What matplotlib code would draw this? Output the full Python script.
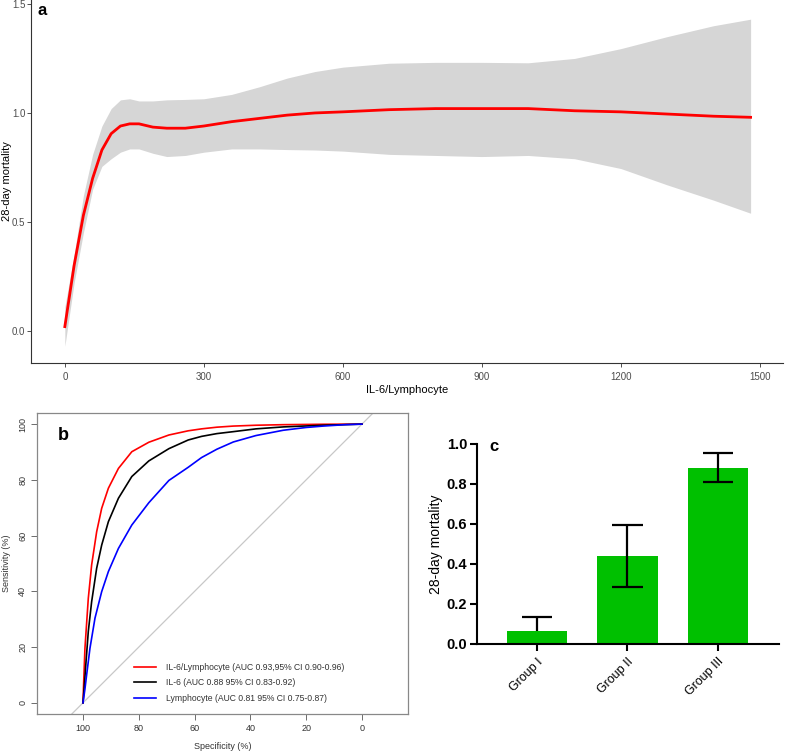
import numpy as np
import matplotlib.pyplot as plt

plt.rcParams['font.family'] = ['Liberation Sans', 'DejaVu Sans']

# ── panel a: restricted cubic spline fit with 95% band ──────────────────────
ratio_x = [0, 20, 40, 60, 80, 100, 120, 140, 160, 190, 220, 260, 300, 360, 420,
           480, 540, 600, 700, 800, 900, 1000, 1100, 1200, 1300, 1400, 1480]
fit_y = [0.02, 0.30, 0.53, 0.70, 0.83, 0.905, 0.94, 0.95, 0.95, 0.935, 0.93, 0.93,
         0.94, 0.96, 0.975, 0.99, 1.0, 1.005, 1.015, 1.02, 1.02, 1.02, 1.01, 1.005,
         0.995, 0.985, 0.98]
upper_y = [0.11, 0.35, 0.62, 0.81, 0.94, 1.02, 1.06, 1.065, 1.055, 1.055, 1.06, 1.062,
           1.065, 1.085, 1.12, 1.16, 1.19, 1.21, 1.228, 1.232, 1.232, 1.23, 1.25, 1.295,
           1.35, 1.40, 1.43]
lower_y = [-0.07, 0.22, 0.45, 0.65, 0.755, 0.79, 0.82, 0.835, 0.835, 0.815, 0.80, 0.805,
           0.82, 0.835, 0.835, 0.832, 0.83, 0.825, 0.81, 0.805, 0.80, 0.805, 0.79, 0.745,
           0.67, 0.60, 0.54]

# ── panel b: ROC curves ────────────────────────────────────────────────────
roc_labels = ['IL-6/Lymphocyte (AUC 0.93,95% CI 0.90-0.96)',
              'IL-6 (AUC 0.88 95% CI 0.83-0.92)',
              'Lymphocyte (AUC 0.81 95% CI 0.75-0.87)']
roc_colors = ['red', 'black', 'blue']
spec_red = [100, 99.7, 99.3, 98.1, 96.9, 95.1, 93.3, 90.9, 87.3, 82.5, 76.4, 69.2,
            62.3, 57.5, 52, 46.1, 38, 28.2, 14, 0]
sens_red = [0, 9, 19.6, 37.5, 49.5, 61.4, 69.8, 77, 84.1, 90.1, 93.5, 96.1,
            97.6, 98.3, 98.9, 99.3, 99.6, 99.8, 99.95, 100]
spec_blk = [100, 99.5, 99.0, 98.1, 96.9, 95.1, 93.3, 90.9, 87.3, 82.5, 76.4, 69.2,
            62.3, 57.5, 52, 46.1, 38, 28.2, 13.9, 0]
sens_blk = [0, 6.5, 13.6, 25.6, 36.3, 48.3, 56.6, 65, 73.4, 81.2, 86.8, 91.2,
            94.3, 95.6, 96.6, 97.3, 98.3, 99.0, 99.6, 100]
spec_blu = [100, 99.3, 98.7, 97.5, 95.7, 93.3, 90.9, 87.3, 82.5, 76.4, 69.2, 62.3,
            57.5, 52, 46.1, 38, 28.2, 20, 13.9, 6, 0]
sens_blu = [0, 5, 10, 19.6, 30.4, 39.9, 47.1, 55.4, 63.8, 71.8, 79.8, 84.5,
            88.0, 91.0, 93.6, 95.9, 97.8, 98.8, 99.3, 99.8, 100]

# ── panel c: mortality by group ────────────────────────────────────────────
groups = ['Group I', 'Group II', 'Group III']
mortality = [0.067, 0.44, 0.88]
err_low = [0.0, 0.155, 0.072]
err_high = [0.068, 0.153, 0.077]

fig = plt.figure(figsize=(7.85, 7.51), dpi=100)

# a
ax = fig.add_axes([0.0395, 0.5166, 0.958, 0.4834])
ax.fill_between(ratio_x, lower_y, upper_y, color='#d6d6d6', lw=0)
ax.plot(ratio_x, fit_y, color='red', lw=2)
ax.set_xlim(-73, 1550)
ax.set_ylim(-0.147, 1.518)
ax.set_xticks([0, 300, 600, 900, 1200, 1500])
ax.set_yticks([0.0, 0.5, 1.0, 1.5])
ax.set_yticklabels(['0.0', '0.5', '1.0', '1.5'])
ax.tick_params(labelsize=7, colors='#333333', labelcolor='#4d4d4d', length=3, width=0.6)
ax.tick_params(axis='y', pad=1)
for s in ['top', 'right']:
    ax.spines[s].set_visible(False)
for s in ['left', 'bottom']:
    ax.spines[s].set_linewidth(0.8)
    ax.spines[s].set_color('#333333')
ax.set_xlabel('IL-6/Lymphocyte', fontsize=8, labelpad=2)
ax.set_ylabel('28-day mortality', fontsize=8)
ax.yaxis.set_label_coords(-0.025, 0.5)
ax.text(0.008, 0.97, 'a', transform=ax.transAxes, fontsize=12, fontweight='bold', va='center')

# b
ax = fig.add_axes([0.0471, 0.0493, 0.4726, 0.4008])
ax.plot([120, -20], [-20, 120], color='#c8c8c8', lw=0.9)
for sx, sy, c, lab in zip([spec_red, spec_blk, spec_blu], [sens_red, sens_blk, sens_blu],
                          roc_colors, roc_labels):
    ax.plot(sx, sy, color=c, lw=1.2, label=lab, solid_joinstyle='round')
ax.set_xlim(116.5, -16.5)
ax.set_ylim(-4, 104)
ax.set_xticks([100, 80, 60, 40, 20, 0])
ax.set_yticks([0, 20, 40, 60, 80, 100])
ax.tick_params(labelsize=6.5, labelcolor='#333333', colors='#555555', length=4, width=0.6)
ax.tick_params(axis='y', pad=3)
for lbl in ax.get_yticklabels():
    lbl.set_rotation(90)
    lbl.set_va('center')
for s in ax.spines.values():
    s.set_color('#888888')
    s.set_linewidth(0.9)
ax.set_xlabel('Specificity (%)', fontsize=6.5, color='#333333', labelpad=6)
ax.set_ylabel('Sensitivity (%)', fontsize=6.5, color='#333333')
ax.yaxis.set_label_coords(-0.070, 0.5)
ax.text(0.055, 0.925, 'b', transform=ax.transAxes, fontsize=13, fontweight='bold', va='center')
ax.legend(loc='lower left', bbox_to_anchor=(0.252, 0.026), frameon=False, fontsize=6.2,
          handlelength=2.55, handletextpad=1.2, labelspacing=0.75, labelcolor='#333333',
          borderaxespad=0)

# c
ax = fig.add_axes([0.6076, 0.1425, 0.3847, 0.2663])
xs = np.arange(len(groups))
ax.bar(xs, mortality, width=0.667, color='#00c000', zorder=1)
tops = np.array(mortality) + np.array(err_high)
bots = np.array(mortality) - np.array(err_low)
ax.vlines(xs, bots, tops, color='black', lw=1.6, zorder=2)
ax.hlines(tops, xs - 0.167, xs + 0.167, color='black', lw=1.6, zorder=2)
has_low = np.array(err_low) > 0
ax.hlines(bots[has_low], xs[has_low] - 0.167, xs[has_low] + 0.167, color='black', lw=1.6, zorder=2)
ax.set_xlim(-0.667, 2.678)
ax.set_ylim(0, 1.0)
ax.set_yticks([0.0, 0.2, 0.4, 0.6, 0.8, 1.0])
ax.set_yticklabels(['0.0', '0.2', '0.4', '0.6', '0.8', '1.0'], fontweight='bold', fontsize=10.5)
ax.set_xticks(xs)
ax.set_xticklabels(groups, rotation=45, ha='right', rotation_mode='anchor', fontsize=9)
ax.tick_params(length=5, width=1.5)
ax.tick_params(axis='y', pad=2)
for s in ['top', 'right']:
    ax.spines[s].set_visible(False)
for s in ['left', 'bottom']:
    ax.spines[s].set_linewidth(1.5)
ax.set_ylabel('28-day mortality', fontsize=10)
ax.yaxis.set_label_coords(-0.113, 0.5)
ax.text(0.04, 0.985, 'c', transform=ax.transAxes, fontsize=12, fontweight='bold', va='center')

fig.savefig('out.png', dpi=100)
